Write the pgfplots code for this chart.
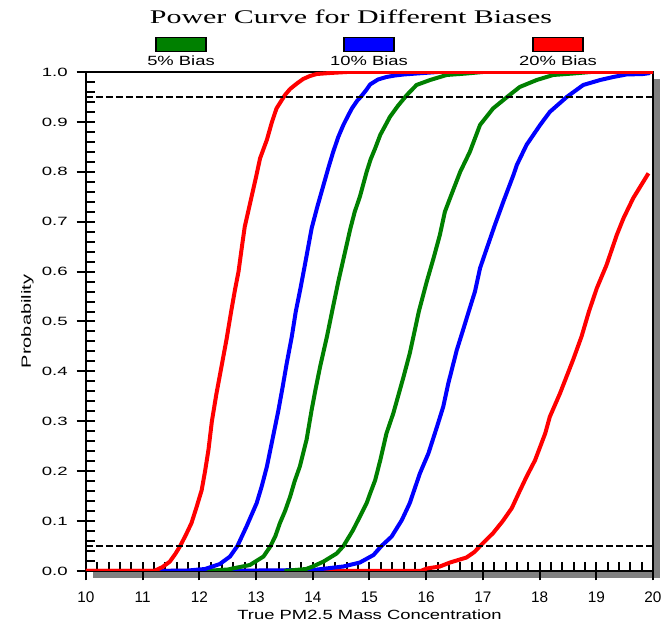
\documentclass[border=0pt]{standalone}
\usepackage{pgfplots}
\pgfplotsset{compat=1.18}
\usepackage{fontspec}
\setmainfont{Liberation Sans}
\newfontfamily\serifT{Liberation Serif}
\usetikzlibrary{shadows}
\definecolor{gfive}{RGB}{0,128,0}
\definecolor{bten}{RGB}{0,0,255}
\definecolor{rtwenty}{RGB}{255,0,0}
\begin{document}
\begin{tikzpicture}
\begin{axis}[
  scale only axis, width=425.25pt, height=374.25pt,
  xmin=10, xmax=20, ymin=0, ymax=1,
  xtick={10,11,12,13,14,15,16,17,18,19,20},
  ytick={0,0.1,0.2,0.3,0.4,0.5,0.6,0.7,0.8,0.9,1.0},
  minor xtick={10.2,10.4,...,19.9},
  minor ytick={0.02,0.04,...,0.99},
  tick align=outside,
  major tick length=7pt, minor tick length=7pt,
  minor x tick style={yshift=7pt},
  minor y tick style={xshift=7pt},
  tick style={black, line width=1.5pt},
  xtick pos=left, ytick pos=left,
  axis line style={line width=2pt, black},
  axis background/.style={fill=white, drop shadow={shadow xshift=5.25pt, shadow yshift=-5.25pt, fill=gray, opacity=1}},
  /pgf/number format/assume math mode=true,
  xticklabel style={font=\fontsize{11.5}{13}\selectfont, anchor=base, inner sep=0pt, yshift=-16.5pt},
  yticklabel style={font=\fontsize{9}{10}\selectfont, anchor=east, inner sep=0pt, xshift=-6.5pt},
  yticklabel={\scalebox{1.55}[1]{\pgfmathprintnumber[fixed,fixed zerofill,precision=1]{\tick}}},
  xlabel={\scalebox{1.38}[1]{True PM2.5 Mass Concentration}},
  xlabel style={font=\fontsize{10}{12}\selectfont, at={(axis description cs:0.5,0)}, anchor=base, inner sep=0pt, yshift=-36.75pt},
  ylabel={\scalebox{1.5}[1]{Probability}},
  ylabel style={font=\fontsize{10}{12}\selectfont, at={([xshift=-41.25pt]axis description cs:0,0.5)}, anchor=base, inner sep=0pt},
  title={\scalebox{1.55}[1]{\serifT Power Curve for Different Biases}},
  title style={font=\fontsize{14.5}{17}\selectfont, at={(axis description cs:0.4674,1)}, anchor=base, inner sep=0pt, yshift=30.5pt},
  every axis plot/.append style={line width=3pt, line join=round},
]
% 20% bias, upper
\addplot[rtwenty] coordinates {(10,0) (15.9,0) (16.01,0.005) (16.24,0.009) (16.42,0.017) (16.71,0.027) (16.85,0.038) (16.95,0.05) (17.18,0.076) (17.35,0.10) (17.51,0.126) (17.64,0.158) (17.77,0.189) (17.92,0.222) (18.10,0.276) (18.18,0.309) (18.36,0.356) (18.59,0.423) (18.74,0.47) (18.87,0.52) (19.01,0.567) (19.18,0.613) (19.36,0.673) (19.48,0.707) (19.65,0.747) (19.92,0.797)};
% 10% bias, upper
\addplot[bten] coordinates {(12.1,0) (14.0,0.002) (14.54,0.009) (14.83,0.017) (15.07,0.032) (15.21,0.05) (15.39,0.069) (15.57,0.102) (15.71,0.136) (15.89,0.196) (16.04,0.236) (16.19,0.289) (16.30,0.329) (16.39,0.376) (16.54,0.443) (16.65,0.483) (16.75,0.52) (16.86,0.56) (16.95,0.607) (17.07,0.647) (17.21,0.693) (17.36,0.74) (17.54,0.794) (17.60,0.814) (17.77,0.854) (18.01,0.894) (18.18,0.92) (18.48,0.95) (18.77,0.974) (19.07,0.984) (19.30,0.99) (19.53,0.995) (19.83,0.996) (19.95,0.998)};
% 5% bias, upper
\addplot[gfive] coordinates {(13.5,0) (13.88,0.004) (14.0,0.009) (14.19,0.019) (14.42,0.035) (14.54,0.05) (14.71,0.082) (14.83,0.109) (14.95,0.136) (15.01,0.155) (15.10,0.182) (15.19,0.222) (15.30,0.276) (15.42,0.316) (15.60,0.389) (15.71,0.436) (15.80,0.483) (15.87,0.52) (16.01,0.58) (16.13,0.627) (16.24,0.673) (16.33,0.72) (16.42,0.747) (16.60,0.80) (16.77,0.84) (16.95,0.894) (17.18,0.927) (17.45,0.952) (17.65,0.97) (17.95,0.984) (18.24,0.994) (18.59,0.997) (18.9,1.0) (20,1.0)};
% 5% bias, lower
\addplot[gfive] coordinates {(12.1,0) (12.5,0.003) (12.89,0.012) (13.13,0.029) (13.25,0.049) (13.34,0.07) (13.42,0.096) (13.51,0.12) (13.60,0.149) (13.68,0.18) (13.77,0.209) (13.89,0.263) (13.98,0.323) (14.05,0.365) (14.13,0.41) (14.25,0.47) (14.34,0.52) (14.45,0.58) (14.57,0.64) (14.66,0.685) (14.74,0.72) (14.83,0.75) (14.95,0.80) (15.02,0.825) (15.10,0.847) (15.19,0.874) (15.28,0.893) (15.36,0.91) (15.50,0.932) (15.66,0.954) (15.83,0.974) (16.07,0.984) (16.36,0.994) (16.71,0.997) (17.0,1.0) (20,1.0)};
% 10% bias, lower
\addplot[bten] coordinates {(11.2,0) (11.8,0.001) (12.1,0.004) (12.36,0.014) (12.54,0.029) (12.67,0.05) (12.83,0.089) (13.01,0.136) (13.10,0.17) (13.19,0.209) (13.30,0.27) (13.39,0.32) (13.47,0.37) (13.54,0.416) (13.63,0.47) (13.70,0.52) (13.78,0.565) (13.86,0.613) (13.98,0.687) (14.08,0.73) (14.19,0.774) (14.28,0.81) (14.36,0.84) (14.45,0.87) (14.54,0.894) (14.62,0.912) (14.69,0.927) (14.78,0.942) (14.86,0.952) (14.95,0.965) (15.01,0.975) (15.15,0.985) (15.30,0.99) (15.45,0.993) (15.60,0.995) (15.83,0.997) (16.2,1.0) (20,1.0)};
% 20% bias, lower
\addplot[rtwenty] coordinates {(10,0) (11.2,0) (11.35,0.008) (11.48,0.019) (11.58,0.035) (11.66,0.05) (11.76,0.072) (11.86,0.096) (11.95,0.128) (12.04,0.162) (12.10,0.20) (12.16,0.243) (12.22,0.30) (12.30,0.355) (12.39,0.41) (12.48,0.465) (12.56,0.52) (12.63,0.565) (12.69,0.60) (12.75,0.65) (12.80,0.69) (12.92,0.75) (13.0,0.79) (13.07,0.827) (13.19,0.864) (13.28,0.90) (13.36,0.927) (13.51,0.954) (13.60,0.966) (13.72,0.977) (13.83,0.986) (13.95,0.992) (14.07,0.996) (14.30,0.998) (14.6,1.0) (20,1.0)};
% reference lines
\addplot[black, line width=1.5pt, dash pattern=on 5pt off 2.5pt] coordinates {(10,0.95) (20,0.95)};
\addplot[black, line width=1.5pt, dash pattern=on 5pt off 2.5pt] coordinates {(10,0.05) (20,0.05)};
\end{axis}
% legend
\node[draw=black, line width=1pt, fill=gfive, minimum width=37.5pt, minimum height=10.5pt, inner sep=0pt] at (71.25pt,394.9pt) {};
\node[draw=black, line width=1pt, fill=bten, minimum width=37.5pt, minimum height=10.5pt, inner sep=0pt] at (212.25pt,394.9pt) {};
\node[draw=black, line width=1pt, fill=rtwenty, minimum width=37.5pt, minimum height=10.5pt, inner sep=0pt] at (354pt,394.9pt) {};
\node[anchor=base, inner sep=0pt, font=\fontsize{10}{12}\selectfont] at (71.25pt,379pt) {\scalebox{1.38}[1]{5\% Bias}};
\node[anchor=base, inner sep=0pt, font=\fontsize{10}{12}\selectfont] at (212.25pt,379pt) {\scalebox{1.38}[1]{10\% Bias}};
\node[anchor=base, inner sep=0pt, font=\fontsize{10}{12}\selectfont] at (354pt,379pt) {\scalebox{1.38}[1]{20\% Bias}};
\pgfresetboundingbox
\path (-64.5pt,-40.5pt) rectangle (431.25pt,428.25pt);
\end{tikzpicture}
\end{document}
